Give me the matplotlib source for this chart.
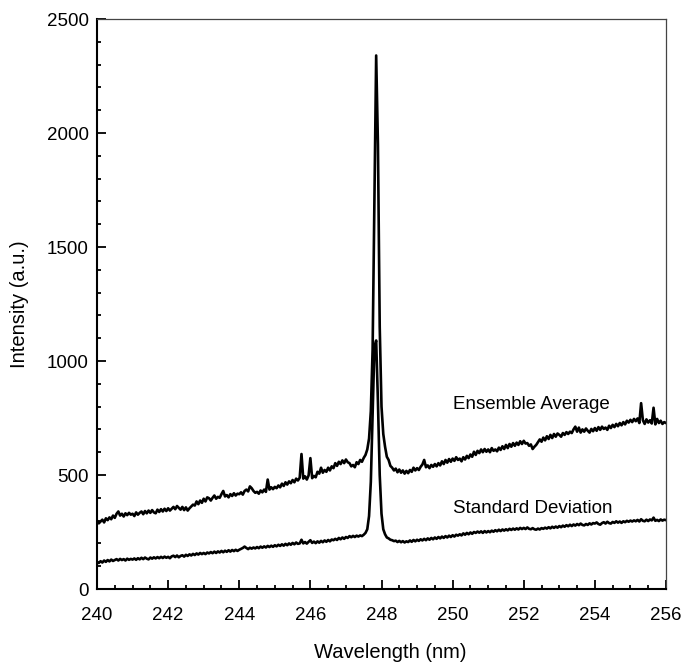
import numpy as np
import matplotlib
matplotlib.use('Agg')
import matplotlib.pyplot as plt
from matplotlib.ticker import MultipleLocator

plt.rcParams['font.family'] = ['Liberation Sans', 'DejaVu Sans']

# sample grid: 240 .. 256 nm, 0.05 nm steps (321 points)
wavelength = np.linspace(240.0, 256.0, 321)

# Ensemble average, one row per nm (20 samples each) + final point at 256
ensemble_avg = [
    300, 288, 296, 304, 292, 310, 302, 314, 306, 322, 312, 330, 340, 322, 330, 318, 332, 324, 334, 326,
    330, 320, 336, 326, 334, 340, 328, 342, 332, 344, 334, 346, 336, 332, 348, 338, 350, 340, 352, 342,
    354, 344, 352, 360, 350, 364, 356, 348, 360, 346, 358, 344, 354, 362, 370, 366, 384, 372, 388, 378,
    396, 384, 402, 398, 388, 400, 410, 396, 404, 400, 416, 430, 406, 412, 402, 416, 408, 420, 410, 418,
    416, 424, 414, 430, 436, 428, 450, 442, 430, 422, 426, 418, 432, 424, 436, 426, 480, 436, 446, 438,
    448, 442, 454, 446, 462, 452, 468, 458, 472, 464, 478, 468, 484, 476, 488, 592, 484, 494, 480, 498,
    574, 486, 496, 490, 514, 506, 532, 510, 522, 514, 532, 520, 538, 530, 552, 540, 558, 548, 564, 552,
    568, 556, 552, 538, 544, 534, 556, 548, 566, 558, 575, 588, 612, 660, 780, 1050, 1700, 2340, 1950, 1150,
    800, 680, 624, 580, 566, 540, 532, 520, 528, 512, 524, 510, 520, 506, 518, 508, 522, 514, 532, 520,
    530, 522, 536, 546, 566, 534, 542, 530, 544, 536, 548, 538, 552, 542, 560, 548, 566, 554, 570, 558,
    572, 562, 578, 566, 572, 560, 578, 568, 584, 574, 590, 580, 602, 588, 606, 596, 612, 600, 614, 602,
    612, 600, 618, 606, 612, 604, 620, 610, 626, 614, 632, 618, 636, 624, 640, 628, 642, 632, 648, 636,
    650, 638, 640, 628, 634, 614, 624, 632, 644, 656, 646, 664, 652, 670, 658, 676, 662, 680, 668, 682,
    676, 668, 684, 676, 688, 680, 690, 684, 700, 712, 690, 708, 686, 700, 690, 704, 694, 686, 702, 692,
    706, 694, 710, 698, 712, 702, 708, 698, 716, 706, 720, 710, 724, 714, 728, 718, 732, 722, 738, 730,
    742, 732, 746, 736, 748, 728, 815, 740, 724, 744, 730, 740, 726, 795, 722, 746, 728, 738, 724, 732,
    728,
]

# Standard deviation, same grid
std_dev = [
    120, 114, 122, 116, 125, 119, 127, 121, 129, 123, 127, 131, 125, 132, 127, 131, 125, 133, 128, 132,
    129, 134, 128, 135, 130, 137, 131, 138, 133, 130, 138, 133, 139, 134, 140, 135, 141, 136, 142, 137,
    141, 135, 143, 146, 140, 147, 139, 145, 148, 142, 150, 145, 152, 147, 154, 149, 156, 151, 158, 153,
    158, 153, 160, 156, 162, 157, 164, 158, 165, 160, 167, 161, 168, 163, 170, 164, 171, 166, 172, 167,
    172, 176, 180, 186, 180, 175, 181, 177, 182, 178, 184, 179, 186, 181, 187, 182, 189, 184, 190, 185,
    192, 187, 194, 189, 196, 190, 198, 192, 200, 194, 202, 196, 204, 198, 200, 216, 200, 206, 199, 207,
    214, 202, 208, 201, 209, 203, 211, 205, 213, 207, 215, 209, 217, 214, 220, 215, 224, 218, 226, 220,
    228, 224, 232, 227, 233, 228, 234, 230, 235, 232, 238, 246, 262, 320, 470, 760, 1060, 1090, 820, 500,
    330, 262, 240, 226, 222, 216, 214, 210, 212, 206, 211, 205, 210, 204, 209, 206, 213, 207, 215, 209,
    216, 211, 218, 213, 220, 214, 222, 216, 224, 218, 226, 220, 228, 222, 230, 224, 232, 226, 234, 228,
    236, 230, 238, 234, 240, 235, 244, 238, 246, 240, 248, 242, 250, 246, 252, 247, 253, 246, 254, 248,
    254, 249, 256, 251, 258, 253, 260, 254, 261, 256, 262, 257, 264, 259, 265, 260, 266, 261, 268, 263,
    268, 263, 270, 264, 262, 267, 262, 260, 265, 261, 267, 264, 269, 265, 271, 266, 273, 268, 274, 269,
    276, 271, 278, 273, 280, 275, 282, 276, 283, 278, 285, 280, 287, 281, 279, 285, 281, 288, 283, 289,
    287, 292, 285, 282, 289, 293, 287, 295, 289, 287, 294, 290, 297, 291, 296, 290, 297, 293, 299, 295,
    300, 296, 301, 297, 303, 296, 306, 299, 297, 304, 298, 305, 301, 313, 299, 303, 298, 305, 300, 304,
    302,
]

fig = plt.figure(figsize=(6.83, 6.62), dpi=100)
ax = fig.add_axes([97 / 683, 1 - 589 / 662, 569 / 683, 570 / 662])

ax.plot(wavelength, ensemble_avg, color='black', lw=1.9)
ax.plot(wavelength, std_dev, color='black', lw=1.9)

ax.text(250.0, 788, 'Ensemble Average', fontsize=13.5, va='baseline')
ax.text(250.0, 332, 'Standard Deviation', fontsize=13.5, va='baseline')

ax.set_xlim(240, 256)
ax.set_ylim(0, 2500)
ax.xaxis.set_major_locator(MultipleLocator(2))
ax.xaxis.set_minor_locator(MultipleLocator(0.5))
ax.yaxis.set_major_locator(MultipleLocator(500))
ax.yaxis.set_minor_locator(MultipleLocator(100))

ax.tick_params(which='both', direction='in', top=False, right=False, width=1.3, labelsize=13.5)
ax.tick_params(which='major', length=6.5)
ax.tick_params(which='minor', length=3.2)
ax.tick_params(axis='x', which='major', pad=13)
ax.tick_params(axis='y', which='major', pad=6)

for side in ['left', 'bottom']:
    ax.spines[side].set_linewidth(1.5)
for side in ['top', 'right']:
    ax.spines[side].set_linewidth(0.9)
    ax.spines[side].set_color('#444444')

ax.set_xlabel('Wavelength (nm)', fontsize=14.5)
ax.set_ylabel('Intensity (a.u.)', fontsize=14.5)
ax.xaxis.set_label_coords(0.515, -0.095)
ax.yaxis.set_label_coords(-0.12, 0.5)

fig.savefig('out.png', dpi=100)
